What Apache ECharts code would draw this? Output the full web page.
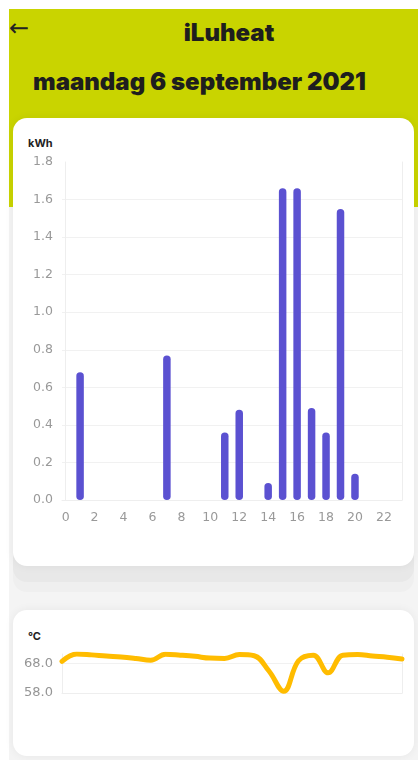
<!DOCTYPE html>
<html>
<head>
<meta charset="utf-8">
<script src="https://cdn.jsdelivr.net/npm/echarts@6/dist/echarts.min.js"></script>
<style>
  html, body { margin: 0; padding: 0; background: #ffffff; }
  body { width: 418px; height: 760px; position: relative; overflow: hidden; font-family: Inter, "Noto Sans", sans-serif; }
  .abs { position: absolute; }
  #app { left: 9px; top: 9px; width: 409px; height: 751px; background: #f4f4f4; }
  #header { left: 9px; top: 9px; width: 409px; height: 198px; background: #c9d400; }
  .layer { border-radius: 14px; }
  .card { background: #ffffff; border-radius: 14px; box-shadow: 0 0 10px rgba(0,0,0,0.06); }
  #arrow { left: 9px; top: 13px; font-family: "DejaVu Sans", sans-serif; font-size: 24px; color: #222; line-height: 30px; }
  #title { left: 130px; top: 17px; width: 198px; text-align: center; font-weight: 900; font-size: 24px; color: #1e1e1e; line-height: 32px; letter-spacing: 0px; }
  #date { left: 33px; top: 66px; font-weight: 900; font-size: 24px; color: #1e1e1e; line-height: 32px; white-space: nowrap; letter-spacing: 0px; }
  .unit { font-weight: 700; font-size: 11px; color: #222; line-height: 14px; }
  #chart { left: 0; top: 0; width: 418px; height: 760px; }
</style>
</head>
<body>
<div id="app" class="abs"></div>
<div id="header" class="abs"></div>
<div class="abs layer" style="left:13px;top:540px;width:401px;height:52px;background:#efefef;"></div>
<div class="abs layer" style="left:13px;top:530px;width:401px;height:52px;background:#e8e8e8;"></div>
<div class="abs card" style="left:13px;top:118px;width:401px;height:448px;"></div>
<div class="abs card" style="left:13px;top:610px;width:401px;height:146px;"></div>
<div id="arrow" class="abs">←</div>
<div id="title" class="abs">iLuheat</div>
<div id="date" class="abs">maandag 6 september 2021</div>
<div class="abs unit" style="left:28px;top:136px;">kWh</div>
<div class="abs unit" style="left:28px;top:629px;">°C</div>
<div id="chart" class="abs"></div>
<script>
// ---- data ----
var hours = [0,1,2,3,4,5,6,7,8,9,10,11,12,13,14,15,16,17,18,19,20,21,22,23];
var kwh = [0,0.68,0,0,0,0,0,0.77,0,0,0,0.36,0.48,0,0.09,1.66,1.66,0.49,0.36,1.55,0.14,0,0,0];
var temperature = [68.8,71.3,71.0,70.6,70.3,69.8,69.2,71.2,70.9,70.5,69.9,69.8,71.1,70.7,65.5,58.6,69.0,70.9,64.9,70.9,71.1,70.6,70.2,69.6];
var hourTicks = [0,2,4,6,8,10,12,14,16,18,20,22];
var kwhTicks = [0,0.2,0.4,0.6,0.8,1.0,1.2,1.4,1.6,1.8];
var tempTicks = [58,68];

var barData = hours.map(function (h, i) { return [h, kwh[i]]; });
var lineData = hours.map(function (h, i) { return [h, temperature[i]]; });

var gridLine = '#eeeeee';
var labelFont = '"DejaVu Sans", sans-serif';

var chart = echarts.init(document.getElementById('chart'), null, { renderer: 'canvas' });
chart.setOption({
  animation: false,
  backgroundColor: 'transparent',
  grid: [
    { left: 62, right: 16, top: 162, bottom: 260 },
    { left: 62, right: 16, top: 654, bottom: 67 }
  ],
  xAxis: [
    {
      type: 'value', gridIndex: 0, min: -0.25, max: 23.25,
      axisLine: { show: true, lineStyle: { color: gridLine, width: 1 } },
      axisTick: { show: false },
      splitLine: { show: false },
      axisLabel: {
        customValues: hourTicks,
        color: '#999999', fontSize: 12.5, fontFamily: labelFont, margin: 11
      }
    },
    {
      type: 'value', gridIndex: 1, min: 0, max: 23,
      axisLine: { show: true, lineStyle: { color: gridLine, width: 1 } },
      axisTick: { show: false },
      splitLine: { show: false },
      axisLabel: { show: false }
    }
  ],
  yAxis: [
    {
      type: 'value', gridIndex: 0, min: 0, max: 1.8, interval: 0.2,
      axisLine: { show: true, lineStyle: { color: gridLine, width: 1 } },
      axisTick: { show: false },
      splitLine: { show: true, showMaxLine: false, lineStyle: { color: '#f1f1f1', width: 1 } },
      axisLabel: {
        color: '#999999', fontSize: 12.5, fontFamily: labelFont, margin: 9,
        formatter: function (v) { return v.toFixed(1); }
      }
    },
    {
      type: 'value', gridIndex: 0, position: 'right', min: 0, max: 1.8,
      axisLine: { show: true, lineStyle: { color: gridLine, width: 1 } },
      axisTick: { show: false }, axisLabel: { show: false }, splitLine: { show: false }
    },
    {
      type: 'value', gridIndex: 1, min: 58, max: 'dataMax', interval: 10,
      axisLine: { show: true, lineStyle: { color: gridLine, width: 1 } },
      axisTick: { show: false },
      splitLine: { show: true, showMaxLine: false, lineStyle: { color: '#f1f1f1', width: 1 } },
      axisLabel: {
        customValues: tempTicks,
        color: '#959595', fontSize: 13, fontFamily: labelFont, margin: 9,
        formatter: function (v) { return Number(v).toFixed(1); }
      }
    },
    {
      type: 'value', gridIndex: 1, position: 'right', min: 58, max: 'dataMax',
      axisLine: { show: true, lineStyle: { color: gridLine, width: 1 } },
      axisTick: { show: false }, axisLabel: { show: false }, splitLine: { show: false }
    }
  ],
  series: [
    {
      type: 'bar', xAxisIndex: 0, yAxisIndex: 0,
      data: barData, barWidth: 7.5,
      itemStyle: { color: '#5b51d1', borderRadius: 4 }
    },
    {
      type: 'line', xAxisIndex: 1, yAxisIndex: 2,
      data: lineData, smooth: 0.4, showSymbol: false,
      lineStyle: { color: '#ffbc00', width: 5, cap: 'round', join: 'round' }
    }
  ]
});
</script>
</body>
</html>
